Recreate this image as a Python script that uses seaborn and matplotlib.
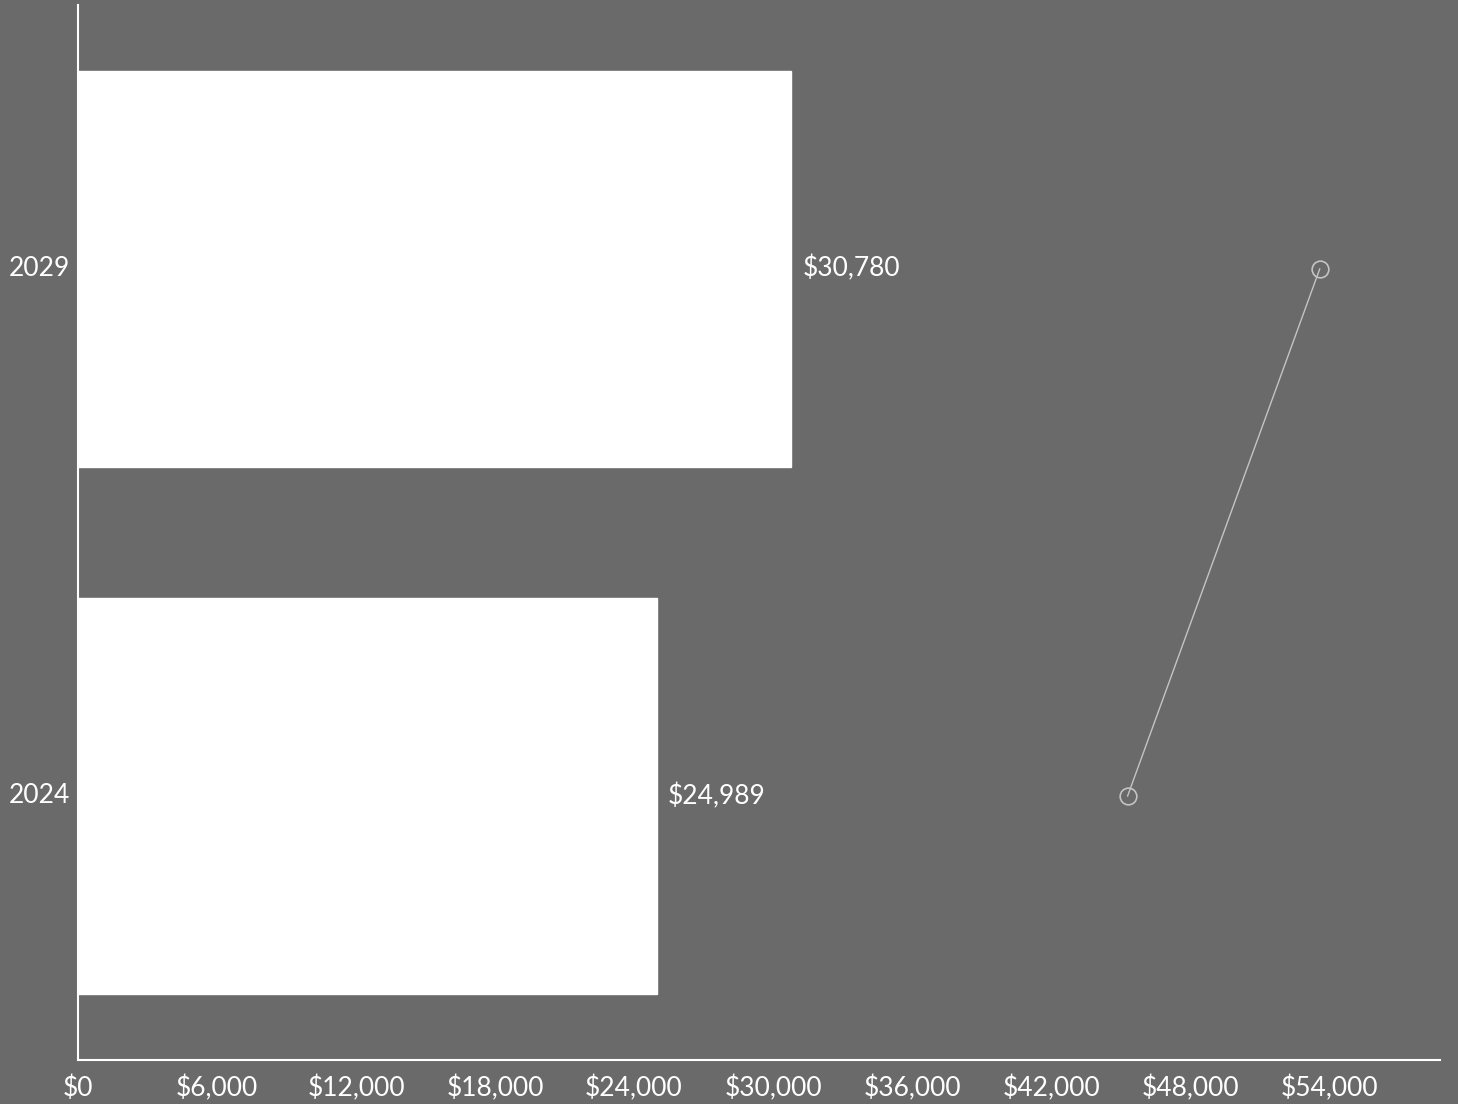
import numpy as np
import matplotlib
matplotlib.use("Agg")
import matplotlib.pyplot as plt
import matplotlib.transforms as mtransforms
import seaborn as sns
import pandas as pd
from matplotlib.ticker import FuncFormatter

years = ["2029", "2024"]
bar_values = [30780, 24989]
line_values = [53600, 45300]

bg = "#6a6a6a"
sns.set_theme(style="white")
plt.rcParams["font.family"] = ["Lato", "DejaVu Sans"]

fig = plt.figure(figsize=(14.58, 11.04), dpi=100, facecolor=bg)
ax = fig.add_axes([0.0535, 0.0399, 0.9342, 0.9556])
ax.set_facecolor(bg)

df = pd.DataFrame({"year": years, "value": bar_values})
sns.barplot(data=df, x="value", y="year", order=years, color="white",
            saturation=1, width=0.75, ax=ax)

# thin line with open circles on top of the bars
ax.plot(line_values, range(len(years)), color="#c4c4c4", lw=1,
        marker="o", ms=12, mfc="none", mec="#c4c4c4", mew=1.2)

for i, v in enumerate(bar_values):
    ax.text(v + 480, i, f"${v:,.0f}", va="center", ha="left",
            color="white", fontsize=19)

ax.set_xlim(0, 58790)
ax.set_ylim(1.5, -0.5)
ax.set_xticks(np.arange(0, 58000, 6000))
ax.xaxis.set_major_formatter(FuncFormatter(lambda x, p: f"${x:,.0f}"))
ax.set_xlabel("")
ax.set_ylabel("")
ax.tick_params(colors="white", labelsize=19, length=0)
ax.tick_params(axis="x", pad=11)
ax.tick_params(axis="y", pad=6)
shift = mtransforms.ScaledTranslation(0, 3 / 100, fig.dpi_scale_trans)
for lab in ax.get_yticklabels():
    lab.set_transform(lab.get_transform() + shift)

for s in ["top", "right"]:
    ax.spines[s].set_visible(False)
for s in ["left", "bottom"]:
    ax.spines[s].set_color("white")
    ax.spines[s].set_linewidth(1.5)

fig.savefig("out.png", dpi=100, facecolor=bg)
